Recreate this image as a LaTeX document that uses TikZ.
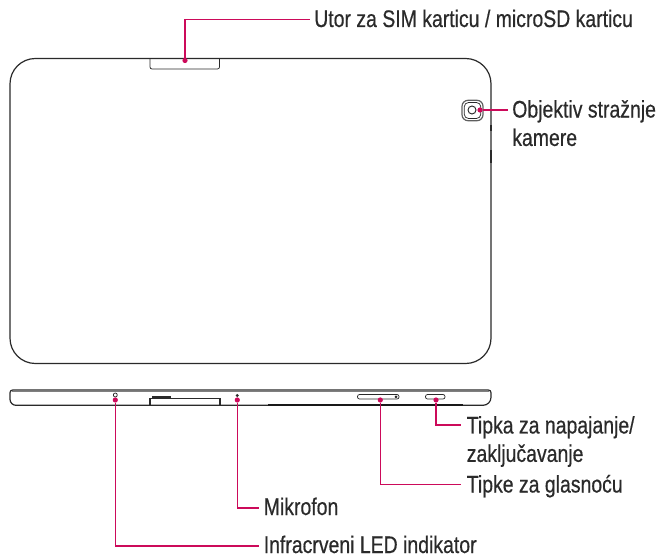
\documentclass[tikz,border=0pt]{standalone}
\usepackage{fontspec}
\setmainfont[FakeStretch=0.81,FakeBold=0.5]{Liberation Sans}
\usetikzlibrary{calc}
\definecolor{leadcol}{HTML}{CC0A5A}
\definecolor{bodycol}{HTML}{2A2A2A}
\tikzset{
  leader/.style={draw=leadcol, line width=0.9pt},
  spot/.style={circle, fill=leadcol, inner sep=0pt, minimum size=3.9pt},
  lbl/.style={inner sep=0pt, anchor=base west, text=bodycol, align=left, font=\fontsize{18}{21.3}\selectfont},
  body/.style={draw=bodycol, line width=0.9pt},
  part/.style={draw=bodycol, line width=0.55pt},
  thickpart/.style={draw=bodycol, line width=1.3pt}
}
\begin{document}
\begin{tikzpicture}[x=0.75pt, y=-0.75pt]
  \useasboundingbox (0,0) rectangle (656,556);

  % back of the tablet
  \draw[body, rounded corners=19pt] (10,58.5) rectangle (491,363.5);
  \draw[part, rounded corners=1.5pt] (150,59) -- (150,69) -- (219.5,69) -- (219.5,59);
  \draw[thickpart] (357,58.5) -- (395,58.5);
  \draw[thickpart] (425,58.5) -- (445,58.5);
  \draw[thickpart] (491,125) -- (491,131);
  \draw[thickpart] (491,150) -- (491,163);
  \draw[body, draw=bodycol!75, rounded corners=4.5pt] (462,100.3) rectangle (483,120.7);
  \draw[part, rounded corners=3pt] (464.3,102.6) rectangle (480.7,118.4);
  \draw[part, line width=0.7pt] (472,110) circle (4);

  % tablet seen from the edge
  \draw[body] (463,405.3) -- (268,405.3) -- (150,405.3) [rounded corners=4.5pt] -- (10,405.3) [rounded corners=2pt] -- (10,390) -- (491,390) [rounded corners=6pt] -- (491,405.3) -- (463,405.3);
  \draw[draw=bodycol!60, line width=0.55pt] (12,391.5) -- (489,391.5);
  \draw[line width=1.7pt, draw=black!90] (268,405.3) -- (463,405.3);
  \draw[body] (150,405.3) -- (150,398.5) -- (220,398.5) -- (220,405.3);
  \draw[line width=1.4pt, draw=bodycol] (152,397.3) -- (171,397.3);
  \draw[part] (115.3,395) circle (2);
  \fill[bodycol] (237.3,395.5) circle (1.6);
  \draw[part, rounded corners=1.5pt, fill=white] (357.5,399) -- (357.5,394.5) -- (399,394.5) -- (399,399) -- cycle;
  \fill[bodycol] (396,396.8) circle (1.5);
  \draw[part, rounded corners=1.5pt, fill=white] (425.5,399) -- (425.5,394.5) -- (445,394.5) -- (445,399) -- cycle;

  % points marked on the tablet
  \node[spot] (sim) at (185,60.5) {};
  \node[spot] (cam) at (480,110) {};
  \node[spot] (led) at (115.3,400) {};
  \node[spot] (mic) at (237.3,400) {};
  \node[spot] (vol) at (380.3,400) {};
  \node[spot] (pwr) at (436,400) {};

  % labels
  \node[lbl] (simlbl) at (314,27) {Utor za SIM karticu / microSD karticu};
  \node[lbl, anchor=north west] (camlbl) at (512,99.8) {Objektiv stražnje\\kamere};
  \node[lbl, anchor=north west] (pwrlbl) at (466.5,415.8) {Tipka za napajanje/\\zaključavanje};
  \node[lbl] (vollbl) at (466.5,492.5) {Tipke za glasnoću};
  \node[lbl] (miclbl) at (263.5,515) {Mikrofon};
  \node[lbl] (ledlbl) at (263.5,553) {Infracrveni LED indikator};

  \coordinate (simend) at (310,19.3);
  \coordinate (camend) at (507.5,110);
  \coordinate (pwrend) at (461,425);
  \coordinate (volend) at (461,484.7);
  \coordinate (micend) at (259,508);
  \coordinate (ledend) at (259,546);

  % leaders
  \draw[leader] (sim) |- (simend);
  \draw[leader] (cam) -- (camend);
  \draw[leader] (pwr) |- (pwrend);
  \draw[leader] (vol) |- (volend);
  \draw[leader] (mic) |- (micend);
  \draw[leader] (led) |- (ledend);
\end{tikzpicture}
\end{document}
